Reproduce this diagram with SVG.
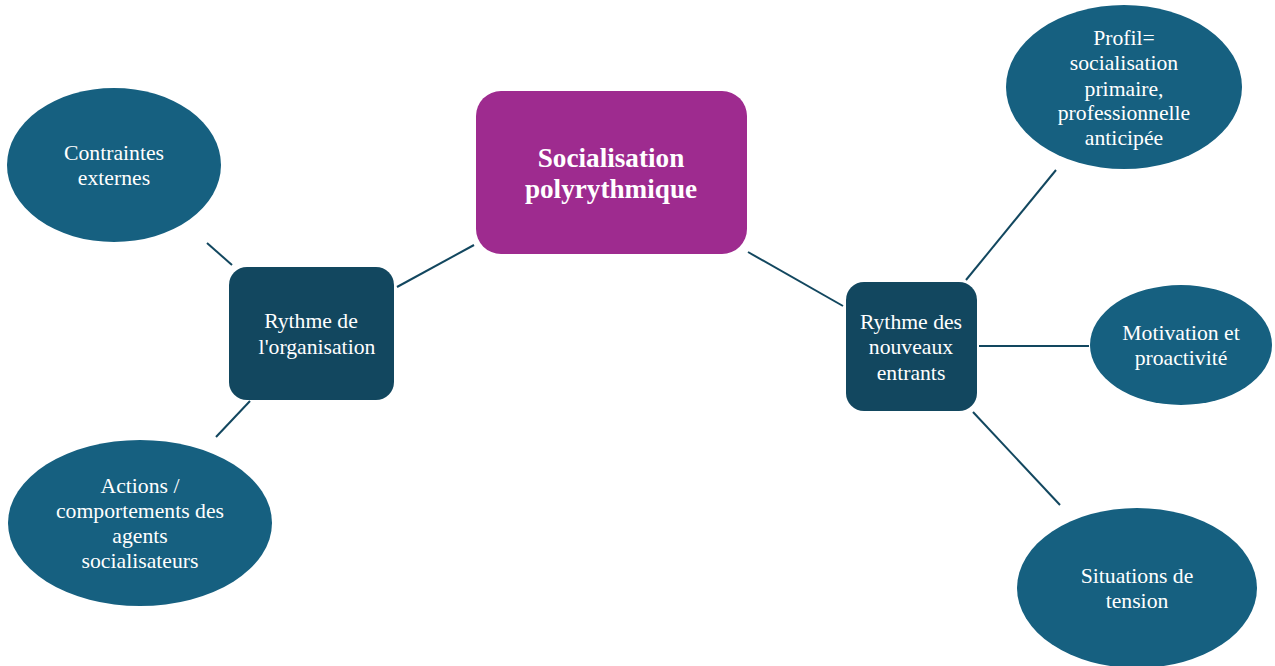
<svg xmlns="http://www.w3.org/2000/svg" width="1275" height="666" viewBox="0 0 1275 666">
<style>
.t{font-family:'Liberation Serif','Times New Roman',serif;font-size:21.7px;fill:#ffffff;text-anchor:middle}
.b{font-weight:bold;font-size:27.2px}
.ell{fill:#166080}
.box{fill:#12475F}
.cn{stroke:#12475F;stroke-width:2;fill:none}
</style>
<rect width="1275" height="666" fill="#ffffff"/>
<g id="connectors">
<line class="cn" x1="397" y1="287" x2="474" y2="245"/>
<line class="cn" x1="748" y1="252" x2="843" y2="306"/>
<line class="cn" x1="207" y1="243" x2="232" y2="265"/>
<line class="cn" x1="250" y1="401" x2="216" y2="437"/>
<line class="cn" x1="966" y1="280" x2="1056" y2="170"/>
<line class="cn" x1="979" y1="346" x2="1089" y2="346"/>
<line class="cn" x1="973" y1="412" x2="1060" y2="505"/>
</g>
<g id="central">
<rect x="476" y="91" width="271" height="163" rx="25" fill="#9E2B8F"/>
<text class="t b" x="611" y="167">Socialisation</text>
<text class="t b" x="611" y="198">polyrythmique</text>
</g>
<g id="organisation">
<rect class="box" x="229" y="267" width="165" height="133" rx="18"/>
<text class="t" x="311" y="328">Rythme de</text>
<text class="t" x="317" y="354">l'organisation</text>
</g>
<g id="entrants">
<rect class="box" x="846" y="282" width="131" height="129" rx="18"/>
<text class="t" x="911" y="329">Rythme des</text>
<text class="t" x="911" y="354">nouveaux</text>
<text class="t" x="911" y="380">entrants</text>
</g>
<g id="contraintes">
<ellipse class="ell" cx="114" cy="165" rx="107" ry="77"/>
<text class="t" x="114" y="160">Contraintes</text>
<text class="t" x="114" y="185">externes</text>
</g>
<g id="actions">
<ellipse class="ell" cx="140" cy="523" rx="132" ry="83"/>
<text class="t" x="140" y="493">Actions /</text>
<text class="t" x="140" y="518">comportements des</text>
<text class="t" x="140" y="543">agents</text>
<text class="t" x="140" y="568">socialisateurs</text>
</g>
<g id="profil">
<ellipse class="ell" cx="1124" cy="87" rx="118" ry="82"/>
<text class="t" x="1124" y="45">Profil=</text>
<text class="t" x="1124" y="70">socialisation</text>
<text class="t" x="1124" y="96">primaire,</text>
<text class="t" x="1124" y="120">professionnelle</text>
<text class="t" x="1124" y="145">anticipée</text>
</g>
<g id="motivation">
<ellipse class="ell" cx="1181" cy="345" rx="91" ry="60"/>
<text class="t" x="1181" y="340">Motivation et</text>
<text class="t" x="1181" y="365">proactivité</text>
</g>
<g id="tension">
<ellipse class="ell" cx="1137" cy="588" rx="120" ry="80"/>
<text class="t" x="1137" y="583">Situations de</text>
<text class="t" x="1137" y="608">tension</text>
</g>
</svg>
